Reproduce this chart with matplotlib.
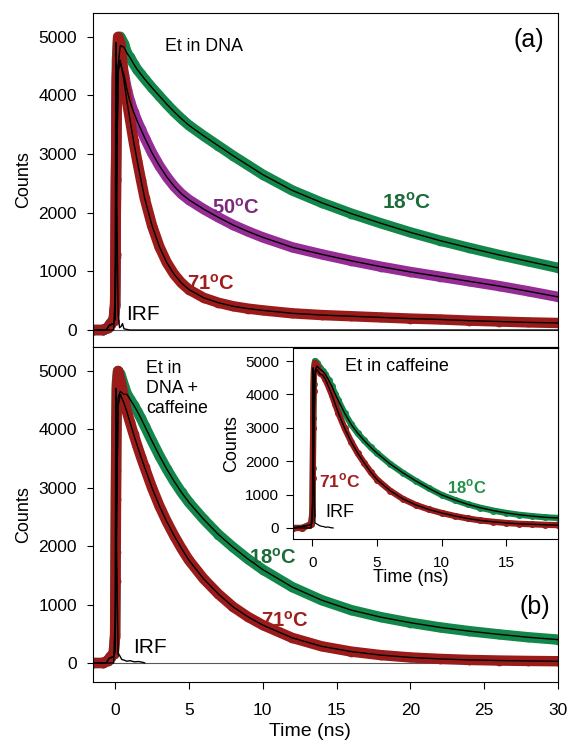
import numpy as np
import matplotlib.pyplot as plt

plt.rcParams['font.family'] = ['Liberation Sans', 'DejaVu Sans']
plt.rcParams['mathtext.fontset'] = 'custom'
plt.rcParams['mathtext.rm'] = 'Liberation Sans'

GREEN = '#13874a'
PURPLE = '#952d95'
RED = '#9b1b1b'
GREEN_TXT = '#1b6b3b'
PURPLE_TXT = '#7b2a7b'
RED_TXT = '#a01d1d'

# ---- data (time in ns, counts) ----
t_head = [-1.5, -0.8, -0.5, -0.3, -0.1, 0.0, 0.03, 0.06, 0.09, 0.12, 0.2, 0.35, 0.6]
t_fit_head = [-1.5, -0.6, -0.4, -0.1, 0.0, 0.1, 0.2, 0.35, 0.6]
t_tail = [0.8, 1, 1.25, 1.5, 1.75, 2, 2.5, 3, 3.5, 4, 4.5, 5, 6, 7, 8, 9, 10,
          12, 14, 16, 18, 20, 22, 24, 26, 28, 30]

# panel (a): Et in DNA
a18_head = [0, 0, 40, 120, 170, 420, 1250, 2550, 3700, 4600, 4950, 5000, 4880]
a18_fit_head = [0, 0, 80, 110, 200, 2600, 4500, 4850, 4820]
a18_tail = [4720, 4650, 4540, 4440, 4360, 4280, 4130, 3990, 3850, 3720, 3600, 3490,
            3310, 3140, 2970, 2810, 2650, 2380, 2170, 1985, 1820, 1665, 1525, 1400,
            1280, 1170, 1060]
a50_head = [0, 0, 40, 110, 160, 400, 1300, 2600, 3600, 4300, 4650, 4600, 4350]
a50_fit_head = [0, 0, 80, 110, 200, 2500, 4400, 4550, 4350]
a50_tail = [4100, 3900, 3720, 3560, 3420, 3280, 3020, 2800, 2610, 2450, 2320, 2220,
            2060, 1920, 1790, 1680, 1580, 1410, 1290, 1180, 1080, 990, 910, 830,
            750, 660, 565]
a71_head = [0, 0, 40, 110, 160, 450, 1300, 2550, 3300, 4300, 5000, 4900, 4300]
a71_fit_head = [0, 0, 80, 110, 200, 2700, 4500, 4600, 4250]
a71_tail = [3900, 3600, 3220, 2880, 2560, 2250, 1780, 1420, 1150, 950, 800, 690,
            550, 465, 405, 365, 335, 285, 255, 235, 215, 195, 180, 160, 145, 130, 120]
irf_a_t = [-1.5, -0.1, 0.0, 0.05, 0.1, 0.2, 0.3, 0.4, 0.5, 0.6, 1.0, 30]
irf_a_c = [0, 0, 600, 4900, 2500, 300, 40, 60, 110, 20, 0, 0]

# panel (b): Et in DNA + caffeine
b18_head = [0, 0, 40, 110, 150, 500, 1900, 3300, 4200, 4800, 5000, 4950, 4750]
b18_fit_head = [0, 0, 80, 110, 200, 2600, 4550, 4650, 4600]
b18_tail = [4600, 4520, 4420, 4310, 4190, 4060, 3800, 3550, 3320, 3110, 2920, 2750,
            2460, 2200, 1980, 1780, 1600, 1300, 1075, 905, 785, 690, 610, 545,
            490, 440, 400]
b71_head = [0, 0, 40, 110, 150, 450, 1400, 2800, 4000, 4700, 5000, 4850, 4550]
b71_fit_head = [0, 0, 80, 110, 200, 2500, 4400, 4600, 4450]
b71_tail = [4300, 4130, 3920, 3720, 3530, 3350, 3000, 2690, 2420, 2180, 1960, 1760,
            1440, 1180, 960, 790, 650, 430, 285, 195, 135, 95, 70, 52, 42, 35, 30]
irf_b_t = [-1.5, -0.1, 0.0, 0.05, 0.1, 0.2, 0.3, 0.45, 0.6, 0.8, 1.0, 1.3, 1.6, 1.9, 2.0]
irf_b_c = [0, 0, 800, 4700, 2000, 150, 130, 60, 50, 30, 40, 20, 25, 10, 0]

# inset: Et in caffeine
ti_head = [-1.5, -0.8, -0.3, -0.1, 0.0, 0.03, 0.06, 0.09, 0.12, 0.2, 0.35, 0.6]
ti_fit_head = [-1.5, -0.3, -0.1, 0.0, 0.1, 0.2, 0.35, 0.6]
ti_tail = [0.8, 1, 1.25, 1.5, 1.75, 2, 2.5, 3, 3.5, 4, 4.5, 5, 6, 7, 8, 9, 10,
           11, 12, 13, 14, 15, 16, 17, 18, 19]
i18_head = [0, 0, 80, 120, 500, 1800, 3300, 4300, 4800, 5000, 4950, 4800]
i18_fit_head = [0, 80, 110, 200, 2600, 4700, 4850, 4750]
i18_tail = [4700, 4600, 4430, 4250, 4020, 3820, 3430, 3100, 2840, 2620, 2420, 2240,
            1920, 1650, 1410, 1190, 990, 840, 710, 605, 520, 450, 395, 355, 320, 300]
i71_head = [0, 0, 80, 120, 400, 1500, 3000, 4100, 4700, 4950, 4850, 4650]
i71_fit_head = [0, 80, 110, 200, 2500, 4600, 4750, 4600]
i71_tail = [4580, 4450, 4230, 3990, 3720, 3450, 2980, 2580, 2240, 1950, 1680, 1450,
            1120, 870, 690, 555, 450, 360, 285, 225, 185, 150, 125, 110, 95, 85]
irf_i_t = [-1.5, -0.1, 0.0, 0.05, 0.1, 0.2, 0.3, 0.5, 0.7, 0.9, 1.0, 1.2, 1.4, 1.6]
irf_i_c = [0, 0, 800, 4800, 2000, 150, 130, 80, 50, 40, 20, 30, 10, 0]


def decay(ax, head, fit_head, tail, th, tfh, tt, color, lw=7.5, ms=6):
    t = np.array(th + tt)
    c = np.array(head + tail)
    ax.plot(t, c, '-', color=color, lw=lw, solid_capstyle='round',
            solid_joinstyle='round', zorder=2)
    ax.plot(t, c, 'o', mfc='none', mec=color, ms=ms, mew=1, zorder=2)
    ax.plot(tfh + tt, fit_head + tail, '-', color='k', lw=1, zorder=4)


fig = plt.figure(figsize=(5.69, 7.42), dpi=100)
ax1 = fig.add_axes([0.1634, 0.5323, 0.8172, 0.4502])
ax2 = fig.add_axes([0.1634, 0.0809, 0.8172, 0.4514])
axi = fig.add_axes([0.515, 0.2736, 0.4657, 0.2574])

deg = r'$^{\mathregular{o}}$C'

# ---- (a) ----
decay(ax1, a18_head, a18_fit_head, a18_tail, t_head, t_fit_head, t_tail, GREEN)
decay(ax1, a50_head, a50_fit_head, a50_tail, t_head, t_fit_head, t_tail, PURPLE)
decay(ax1, a71_head, a71_fit_head, a71_tail, t_head, t_fit_head, t_tail, RED)
ax1.plot(irf_a_t, irf_a_c, color='k', lw=1, zorder=5)
ax1.axhline(0, color='0.35', lw=0.8, zorder=1)
ax1.text(3.4, 4830, 'Et in DNA', fontsize=12.8, va='center')
ax1.text(27.0, 4950, '(a)', fontsize=18, va='center')
ax1.text(6.55, 2080, '50' + deg, color=PURPLE_TXT, fontsize=14.5, fontweight='bold', va='center')
ax1.text(18.1, 2180, '18' + deg, color=GREEN_TXT, fontsize=15, fontweight='bold', va='center')
ax1.text(4.86, 785, '71' + deg, color=RED_TXT, fontsize=14.5, fontweight='bold', va='center')
ax1.text(0.74, 270, 'IRF', fontsize=15, va='center')
ax1.set_xlim(-1.5, 30)
ax1.set_ylim(-290, 5405)
ax1.set_yticks([0, 1000, 2000, 3000, 4000, 5000])
ax1.tick_params(axis='x', bottom=False, labelbottom=False)
ax1.tick_params(axis='y', direction='out', length=4.5, pad=7, labelsize=12.5)
ax1.set_ylabel('Counts', fontsize=13)
ax1.yaxis.set_label_coords(-0.131, 0.5)

# ---- (b) ----
decay(ax2, b18_head, b18_fit_head, b18_tail, t_head, t_fit_head, t_tail, GREEN)
decay(ax2, b71_head, b71_fit_head, b71_tail, t_head, t_fit_head, t_tail, RED)
ax2.plot(irf_b_t, irf_b_c, color='k', lw=1, zorder=5)
ax2.axhline(0, color='0.35', lw=0.8, zorder=1)
ax2.text(2.1, 5190, 'Et in\nDNA +\ncaffeine', fontsize=12.8, va='top', linespacing=1.25)
ax2.text(9.1, 1800, '18' + deg, color=GREEN_TXT, fontsize=14.5, fontweight='bold', va='center')
ax2.text(9.9, 720, '71' + deg, color=RED_TXT, fontsize=14.5, fontweight='bold', va='center')
ax2.text(27.4, 960, '(b)', fontsize=18, va='center')
ax2.text(1.2, 260, 'IRF', fontsize=15, va='center')
ax2.set_xlim(-1.5, 30)
ax2.set_ylim(-325, 5410)
ax2.set_xticks([0, 5, 10, 15, 20, 25, 30])
ax2.set_yticks([0, 1000, 2000, 3000, 4000, 5000])
ax2.tick_params(axis='y', direction='out', length=4.5, pad=7, labelsize=12.5)
ax2.tick_params(axis='x', direction='out', length=5, pad=10, labelsize=12.5)
ax2.set_ylabel('Counts', fontsize=13)
ax2.yaxis.set_label_coords(-0.131, 0.5)
ax2.set_xlabel('Time (ns)', fontsize=14)
ax2.xaxis.set_label_coords(0.467, -0.122)

# ---- inset ----
decay(axi, i18_head, i18_fit_head, i18_tail, ti_head, ti_fit_head, ti_tail, GREEN, lw=4.5, ms=4)
decay(axi, i71_head, i71_fit_head, i71_tail, ti_head, ti_fit_head, ti_tail, RED, lw=4.5, ms=4)
axi.plot(irf_i_t, irf_i_c, color='k', lw=0.9, zorder=5)
axi.text(2.54, 4850, 'Et in caffeine', fontsize=13, va='center')
axi.text(0.54, 1400, '71' + deg, color=RED_TXT, fontsize=12.5, fontweight='bold', va='center')
axi.text(10.4, 1230, '18' + deg, color='#23904a', fontsize=12, fontweight='bold', va='center')
axi.text(1.0, 450, 'IRF', fontsize=13, va='center')
axi.set_xlim(-1.5, 19)
axi.set_ylim(-330, 5390)
axi.set_xticks([0, 5, 10, 15])
axi.set_yticks([0, 1000, 2000, 3000, 4000, 5000])
axi.tick_params(axis='y', direction='out', length=5, pad=5, labelsize=11)
axi.tick_params(axis='x', direction='out', length=5, pad=7, labelsize=11)
axi.set_ylabel('Counts', fontsize=13)
axi.yaxis.set_label_coords(-0.2, 0.5)
axi.set_xlabel('Time (ns)', fontsize=13)
axi.xaxis.set_label_coords(0.445, -0.157)

plt.savefig('out.png', dpi=100)
